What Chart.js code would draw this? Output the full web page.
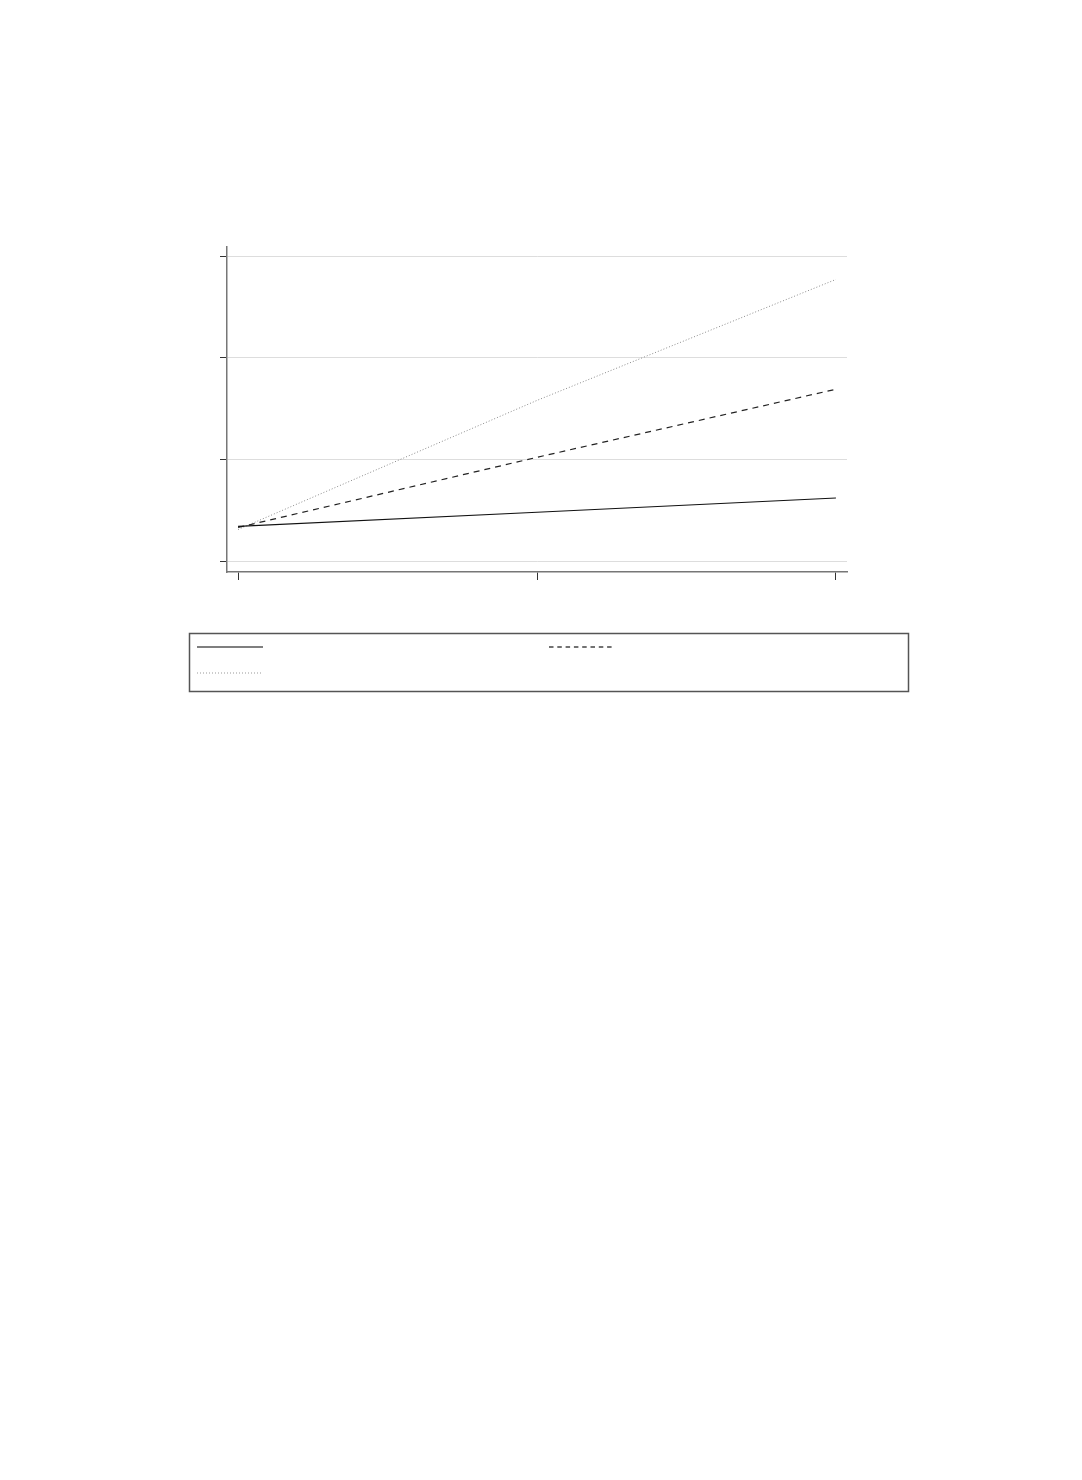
<!DOCTYPE html>
<html>
<head>
<meta charset="utf-8">
<script src="https://cdn.jsdelivr.net/npm/chart.js@4/dist/chart.umd.min.js"></script>
<style>
  html, body { margin: 0; padding: 0; background: #fff; }
  #wrap { position: absolute; left: 0; top: 0; width: 1082px; height: 1480px; }
</style>
</head>
<body>
<div id="wrap"><canvas id="chart" width="1082" height="1480"></canvas></div>
<script>
"use strict";

// values (no text is shown in the reference)
let xValues = [0, 1, 2];
let xTicks = [0, 1, 2];
let yTicks = [0, 1, 2, 3];
let seriesNames = ["series 1", "series 2", "series 3"];
let solidValues = [0.34, 0.48, 0.62];
let dashedValues = [0.33, 1.02, 1.69];
let dottedValues = [0.31, 1.58, 2.77];

function toPoints(values) {
  let pts = [];
  for (let i = 0; i < values.length; i++) {
    pts.push({ x: xValues[i], y: values[i] });
  }
  return pts;
}

// legend box drawn under the plot, samples take each dataset's line style
let boxLegend = {
  id: "boxLegend",
  afterDraw(chart) {
    let ctx = chart.ctx;
    ctx.save();
    ctx.strokeStyle = "#555";
    ctx.lineWidth = 1.5;
    ctx.setLineDash([]);
    ctx.strokeRect(189.5, 633.5, 719, 58);
    let slots = [
      { x: 197, y: 647 },
      { x: 549, y: 647 },
      { x: 197, y: 673 },
    ];
    let legendDash = [[], [4.5, 3.8], [1, 2]];
    let legendColor = ["#555", "#444", "#999"];
    chart.data.datasets.forEach(function (ds, i) {
      let s = slots[i];
      ctx.beginPath();
      ctx.strokeStyle = legendColor[i];
      ctx.lineWidth = i === 2 ? 1 : 1.5;
      ctx.setLineDash(legendDash[i]);
      ctx.moveTo(s.x, s.y);
      ctx.lineTo(s.x + 66, s.y);
      ctx.stroke();
    });
    ctx.restore();
  },
};

let ctx = document.getElementById("chart");
let chart = new Chart(ctx, {
  type: "line",
  data: {
    datasets: [
      {
        label: seriesNames[0],
        data: toPoints(solidValues),
        borderColor: "#111",
        borderWidth: 1.2,
        pointRadius: 0,
      },
      {
        label: seriesNames[1],
        data: toPoints(dashedValues),
        borderColor: "#222",
        borderWidth: 1.2,
        borderDash: [6, 5],
        pointRadius: 0,
      },
      {
        label: seriesNames[2],
        data: toPoints(dottedValues),
        borderColor: "#8a8a8a",
        borderWidth: 1,
        borderDash: [1, 2],
        pointRadius: 0,
      },
    ],
  },
  options: {
    responsive: false,
    animation: false,
    devicePixelRatio: 1,
    layout: { padding: { left: 220, top: 247, right: 235, bottom: 900 } },
    plugins: { legend: { display: false }, tooltip: { enabled: false } },
    elements: { line: { tension: 0 } },
    scales: {
      x: {
        type: "linear",
        min: -0.037,
        max: 2.037,
        afterBuildTicks(scale) {
          scale.ticks = xTicks.map((v) => ({ value: v }));
        },
        afterFit(scale) {
          scale.height = 8;
        },
        ticks: { display: false },
        grid: {
          drawOnChartArea: false,
          drawTicks: true,
          tickLength: 8,
          tickColor: "#333",
        },
        border: { color: "#777", width: 1.5 },
      },
      y: {
        type: "linear",
        min: -0.108,
        max: 3.089,
        afterBuildTicks(scale) {
          scale.ticks = yTicks.map((v) => ({ value: v }));
        },
        afterFit(scale) {
          scale.width = 7;
        },
        ticks: { display: false },
        grid: {
          color: "#dddddd",
          lineWidth: 1,
          drawTicks: true,
          tickLength: 7,
          tickColor: "#333",
        },
        border: { color: "#777", width: 1.5 },
      },
    },
  },
  plugins: [boxLegend],
});
</script>
</body>
</html>
